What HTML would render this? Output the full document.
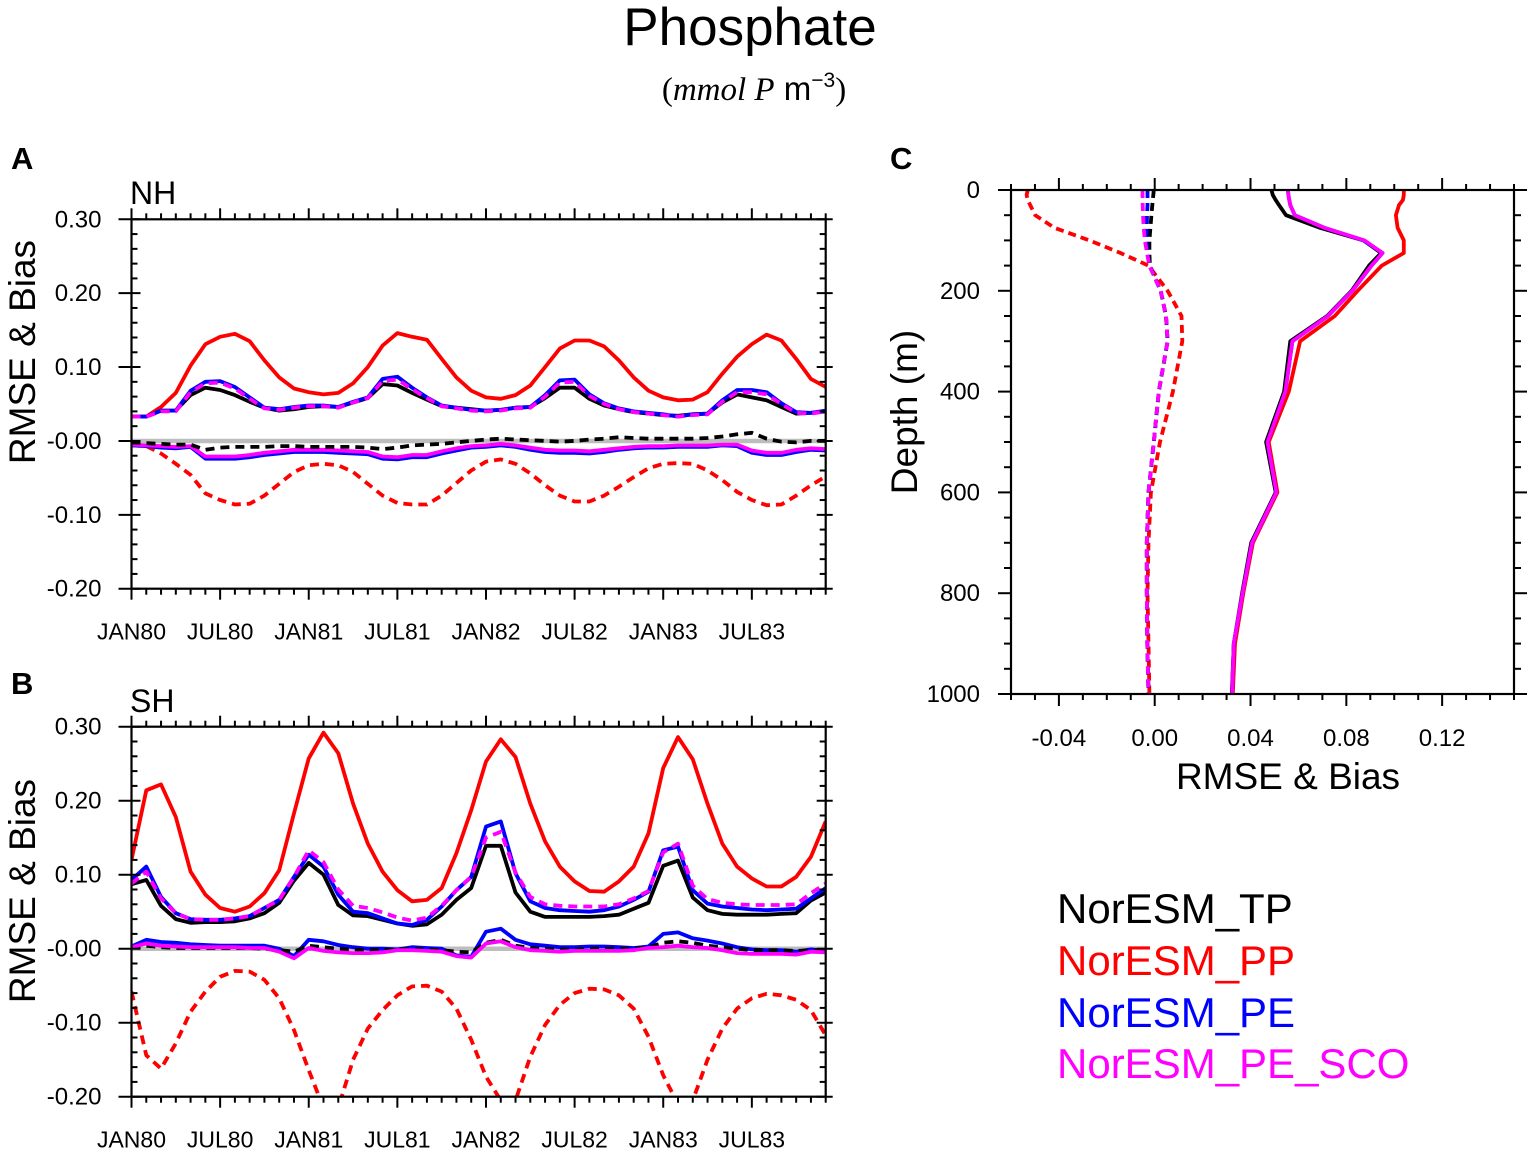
<!DOCTYPE html>
<html><head><meta charset="utf-8">
<style>
html,body{margin:0;padding:0;background:#fff;}
svg{display:block;font-family:"Liberation Sans",Arial,sans-serif;}
</style></head>
<body>
<svg id="fig" width="1535" height="1155" viewBox="0 0 1535 1155" xmlns="http://www.w3.org/2000/svg">
<text x="750" y="45" font-size="53" text-anchor="middle">Phosphate</text>
<text x="754" y="100" font-size="33" text-anchor="middle"><tspan font-family="Liberation Serif,serif">(</tspan><tspan font-family="Liberation Serif,serif" font-style="italic">mmol P</tspan> m<tspan font-size="21" dy="-13">−3</tspan><tspan font-family="Liberation Serif,serif" dy="13">)</tspan></text>
<text x="11" y="169" font-size="31" font-weight="bold">A</text>
<text x="11" y="694" font-size="31" font-weight="bold">B</text>
<text x="890" y="169" font-size="31" font-weight="bold">C</text>
<text x="130" y="204" font-size="32">NH</text>
<text x="130" y="712" font-size="32">SH</text>
<g font-size="42">
<text x="1057" y="923" fill="#000">NorESM_TP</text>
<text x="1057" y="975" fill="#ff0000">NorESM_PP</text>
<text x="1057" y="1027" fill="#0000ff">NorESM_PE</text>
<text x="1057" y="1078" fill="#ff00ff">NorESM_PE_SCO</text>
</g>
</svg>
<script>
const monthLabels = ["JAN80","JUL80","JAN81","JUL81","JAN82","JUL82","JAN83","JUL83"];
const yTicksAB = [0.30,0.20,0.10,0.00,-0.10,-0.20];
const yTickLabelsAB = ["0.30","0.20","0.10","-0.00","-0.10","-0.20"];
const nhRmsePP = [.033,.033,.046,.065,.102,.131,.141,.145,.135,.109,.086,.071,.066,.063,.065,.078,.100,.129,.146,.141,.137,.111,.086,.068,.059,.057,.062,.075,.100,.125,.136,.136,.128,.109,.086,.068,.059,.055,.056,.066,.091,.114,.131,.144,.136,.111,.084,.073];
const nhRmsePE = [.033,.033,.041,.041,.068,.080,.081,.073,.059,.045,.043,.046,.048,.048,.046,.053,.059,.084,.087,.072,.059,.048,.045,.042,.041,.042,.045,.046,.062,.082,.083,.063,.051,.044,.040,.038,.036,.033,.036,.037,.055,.069,.069,.066,.051,.039,.038,.041];
const nhRmseSCO = [.033,.033,.040,.040,.066,.078,.079,.071,.057,.044,.042,.045,.047,.047,.045,.052,.058,.081,.083,.070,.058,.047,.044,.041,.040,.041,.044,.045,.060,.079,.080,.061,.050,.043,.039,.037,.035,.033,.035,.036,.053,.066,.066,.063,.050,.038,.037,.040];
const nhRmseTP = [.033,.033,.041,.041,.062,.072,.069,.062,.053,.045,.041,.043,.046,.047,.046,.052,.058,.077,.075,.065,.056,.047,.045,.043,.041,.042,.045,.046,.058,.072,.072,.057,.048,.043,.039,.037,.035,.034,.036,.037,.052,.063,.059,.055,.046,.037,.038,.040];
const nhBiasTP = [-.002,-.003,-.004,-.005,-.005,-.012,-.009,-.008,-.008,-.008,-.007,-.007,-.008,-.008,-.008,-.008,-.009,-.011,-.009,-.006,-.005,-.004,-.002,0,.002,.003,.002,.001,0,-.001,0,.002,.003,.005,.004,.003,.003,.003,.003,.004,.006,.009,.011,.003,-.001,-.002,0,0];
const nhBiasPE = [-.006,-.007,-.009,-.010,-.008,-.024,-.024,-.024,-.022,-.019,-.017,-.015,-.015,-.015,-.016,-.017,-.018,-.024,-.025,-.022,-.022,-.017,-.013,-.009,-.008,-.006,-.008,-.012,-.015,-.016,-.016,-.017,-.015,-.012,-.010,-.009,-.009,-.008,-.008,-.008,-.006,-.007,-.016,-.019,-.019,-.015,-.012,-.013];
const nhBiasSCO = [-.005,-.006,-.007,-.008,-.007,-.021,-.021,-.021,-.019,-.016,-.014,-.012,-.012,-.012,-.013,-.014,-.015,-.021,-.022,-.019,-.019,-.014,-.010,-.007,-.006,-.004,-.006,-.009,-.012,-.013,-.013,-.014,-.012,-.010,-.008,-.007,-.007,-.006,-.006,-.006,-.005,-.005,-.013,-.016,-.016,-.012,-.010,-.011];
const nhBiasPP = [-.006,-.007,-.017,-.031,-.046,-.071,-.080,-.086,-.085,-.074,-.058,-.042,-.033,-.031,-.033,-.042,-.058,-.074,-.084,-.086,-.086,-.074,-.057,-.040,-.028,-.025,-.031,-.044,-.060,-.074,-.082,-.082,-.074,-.062,-.049,-.037,-.031,-.030,-.031,-.040,-.053,-.069,-.080,-.087,-.086,-.074,-.060,-.048];
const shRmsePP = [.120,.214,.222,.178,.104,.073,.055,.050,.057,.075,.106,.183,.257,.292,.264,.196,.142,.104,.079,.064,.066,.082,.129,.187,.253,.283,.259,.196,.145,.111,.091,.078,.077,.091,.111,.156,.244,.286,.256,.196,.142,.111,.095,.084,.084,.097,.124,.172];
const shRmsePE = [.093,.111,.070,.048,.040,.039,.039,.041,.044,.055,.066,.097,.127,.111,.073,.050,.048,.041,.034,.032,.039,.057,.079,.097,.165,.172,.102,.064,.055,.052,.051,.050,.052,.057,.066,.077,.133,.138,.079,.061,.057,.055,.053,.052,.053,.054,.068,.082];
const shRmseSCO = [.088,.104,.068,.048,.040,.039,.039,.041,.044,.055,.066,.097,.133,.117,.080,.058,.055,.049,.042,.038,.042,.058,.079,.097,.150,.158,.103,.070,.060,.058,.057,.057,.057,.060,.068,.078,.130,.142,.085,.067,.062,.060,.059,.059,.059,.060,.075,.088];
const shRmseTP = [.087,.093,.058,.040,.035,.036,.036,.037,.041,.048,.062,.092,.116,.100,.059,.045,.044,.039,.034,.031,.033,.046,.066,.082,.139,.139,.076,.050,.043,.043,.043,.043,.044,.046,.054,.062,.112,.119,.069,.052,.047,.046,.046,.046,.047,.048,.065,.076];
const shBiasPE = [.003,.012,.009,.008,.006,.005,.004,.004,.004,.004,0,-.010,.012,.010,.005,.002,0,0,-.001,.002,.001,0,-.009,-.011,.023,.027,.012,.006,.004,.002,.002,.003,.003,.002,.001,.003,.020,.022,.014,.011,.007,.002,-.001,-.002,-.002,-.004,-.001,-.003];
const shBiasSCO = [.002,.007,.004,.003,.002,.002,.002,.002,.001,.001,-.004,-.013,.001,-.003,-.005,-.006,-.006,-.005,-.002,-.002,-.003,-.004,-.010,-.012,.007,.010,.002,-.002,-.003,-.004,-.003,-.003,-.003,-.003,-.002,.001,.002,.004,.002,.001,-.002,-.006,-.007,-.007,-.007,-.008,-.004,-.005];
const shBiasTP = [.002,.004,.002,.001,.001,.001,.001,.001,.001,0,-.002,-.004,.004,.002,0,-.001,-.002,-.002,-.001,0,-.001,-.002,-.004,-.005,.008,.012,.004,.001,0,-.001,-.001,0,0,0,0,.002,.008,.010,.008,.004,.002,0,-.002,-.002,-.002,-.003,-.002,-.003];
const shBiasPP = [-.058,-.144,-.162,-.128,-.085,-.058,-.038,-.030,-.031,-.042,-.067,-.110,-.164,-.215,-.215,-.150,-.108,-.083,-.063,-.051,-.050,-.058,-.081,-.123,-.173,-.205,-.205,-.146,-.103,-.076,-.060,-.054,-.055,-.063,-.081,-.119,-.171,-.210,-.205,-.150,-.108,-.081,-.067,-.061,-.063,-.069,-.083,-.117];
const depths = [0,10,20,30,50,75,100,125,150,200,250,300,400,500,600,700,800,900,1000];
const depthTicks = [0,200,400,600,800,1000];
const cXTicks = [-0.04,0.00,0.04,0.08,0.12];
const cXTickLabels = ["-0.04","0.00","0.04","0.08","0.12"];
const profRmsePP = [.104,.104,.1036,.102,.1007,.1014,.104,.104,.0948,.0847,.0752,.0607,.056,.0476,.0512,.041,.037,.0335,.0326];
const profRmsePE = [.0556,.0558,.0562,.0566,.0585,.0708,.0872,.0951,.0905,.0825,.0723,.0575,.0545,.0471,.0508,.0406,.0367,.033,.0323];
const profRmseSCO = [.0556,.0558,.0562,.0566,.0585,.0708,.0876,.0951,.0905,.0825,.0723,.0575,.0545,.0471,.0508,.0406,.0367,.033,.0323];
const profRmseTP = [.0487,.0493,.0505,.0519,.0548,.069,.0872,.0945,.0895,.0822,.0720,.0566,.0540,.0465,.0505,.0403,.0365,.033,.0322];
const profBiasPP = [-.053,-.0535,-.053,-.052,-.0499,-.0419,-.0273,-.0143,-.0026,.0054,.0112,.0115,.0076,.0022,-.0016,-.0026,-.003,-.0026,-.0022];
const profBiasSCO = [-.0051,-.0051,-.005,-.005,-.0049,-.0046,-.0041,-.0032,-.0022,.0025,.0047,.0054,.0017,-.0004,-.0026,-.0033,-.0033,-.0031,-.0026];
const profBiasPE = [-.003,-.003,-.003,-.003,-.0032,-.0033,-.0035,-.003,-.0022,.0025,.0047,.0054,.0017,-.0004,-.0026,-.0033,-.0033,-.0031,-.0026];
const profBiasTP = [-.0004,-.0006,-.0008,-.001,-.0014,-.0018,-.0022,-.0022,-.002,.0025,.0047,.0054,.0017,-.0004,-.0026,-.0033,-.0033,-.0031,-.0026];

const NS = "http://www.w3.org/2000/svg";
const svg = document.getElementById("fig");
function mk(tag, parent, attrs){
  const e = document.createElementNS(NS, tag);
  for (const k in attrs) e.setAttribute(k, attrs[k]);
  parent.appendChild(e);
  return e;
}
const RED="#ff0000", BLUE="#0000ff", MAG="#ff00ff", BLK="#000000";

function timePanel(id, top, bottom, titleY, series, clipId){
  const L=131.5, R=825.7;
  const xS = i => L + i*(R-L)/47;
  const yS = v => top + (0.30 - v)*(bottom-top)/0.5;
  const g = mk("g", svg, {});
  
  
  const cp = mk("clipPath", g, {id:clipId});
  mk("rect", cp, {x:L, y:top, width:R-L, height:bottom-top});
  const zl = mk("line", g, {x1:L, x2:R, y1:yS(0), y2:yS(0), stroke:"#bdbdbd", "stroke-width":4.5});
  
  
  const lines = mk("g", g, {"clip-path":"url(#"+clipId+")"});
  series.forEach(s=>{
    const d = s.vals.map((v,i)=>(i?"L":"M")+xS(i).toFixed(1)+","+yS(v).toFixed(1)).join("");
    const p = mk("path", lines, {d:d, fill:"none", stroke:s.color, "stroke-width":3.8, "stroke-linejoin":"round"});
    if (s.dash) p.setAttribute("stroke-dasharray","9,6");
    
    
  });
  const fr = mk("rect", g, {x:L, y:top, width:R-L, height:bottom-top, fill:"none", stroke:"#000", "stroke-width":2.2});
  
  
  const ax = mk("g", g, {stroke:"#000", "stroke-width":2});
  
  
  for (let i=0;i<48;i++){
    const x=xS(i), maj = i%6===0, len = maj?11:6;
    mk("line", ax, {x1:x,x2:x,y1:bottom,y2:bottom+len});
    mk("line", ax, {x1:x,x2:x,y1:top,y2:top-len});
  }
  for (let k=0;k<=25;k++){
    const v = 0.30 - k*0.02, y=yS(v), maj = k%5===0;
    if (maj){
      mk("line", ax, {x1:L-13,x2:L+9,y1:y,y2:y});
      mk("line", ax, {x1:R-9,x2:R+7,y1:y,y2:y});
    } else {
      mk("line", ax, {x1:L,x2:L+6,y1:y,y2:y});
      mk("line", ax, {x1:R-6,x2:R,y1:y,y2:y});
    }
  }
  yTicksAB.forEach((v,k)=>{
    const t = mk("text", g, {x:L-30, y:yS(v)+8, "font-size":24, "text-anchor":"end"});
    t.textContent = yTickLabelsAB[k];
    
    
  });
  monthLabels.forEach((lab,k)=>{
    const t = mk("text", g, {x:xS(k*6), y:bottom+51, "font-size":23, "text-anchor":"middle"});
    t.textContent = lab;
    
    
  });
  const yt = mk("text", g, {x:0, y:0, "font-size":37, "text-anchor":"middle", transform:"translate(35,"+titleY+") rotate(-90)"});
  yt.textContent = "RMSE & Bias";
  
  
}

timePanel("panel-a", 219.3, 588.7, 352, [
  {name:"bias-pp", vals:nhBiasPP, color:RED, dash:true},
  {name:"bias-pe", vals:nhBiasPE, color:BLUE},
  {name:"bias-pe-sco", vals:nhBiasSCO, color:MAG},
  {name:"bias-tp", vals:nhBiasTP, color:BLK, dash:true},
  {name:"rmse-pp", vals:nhRmsePP, color:RED},
  {name:"rmse-tp", vals:nhRmseTP, color:BLK},
  {name:"rmse-pe", vals:nhRmsePE, color:BLUE},
  {name:"rmse-pe-sco", vals:nhRmseSCO, color:MAG, dash:true}
], "clipA");
timePanel("panel-b", 726.7, 1096.7, 891, [
  {name:"bias-pp", vals:shBiasPP, color:RED, dash:true},
  {name:"bias-pe", vals:shBiasPE, color:BLUE},
  {name:"bias-tp", vals:shBiasTP, color:BLK, dash:true},
  {name:"bias-pe-sco", vals:shBiasSCO, color:MAG},
  {name:"rmse-pp", vals:shRmsePP, color:RED},
  {name:"rmse-tp", vals:shRmseTP, color:BLK},
  {name:"rmse-pe", vals:shRmsePE, color:BLUE},
  {name:"rmse-pe-sco", vals:shRmseSCO, color:MAG, dash:true}
], "clipB");

(function(){
  const L=1011, R=1514, T=190, B=694, xmin=-0.06, xmax=0.15;
  const xS = v => L + (v-xmin)*(R-L)/(xmax-xmin);
  const yS = d => T + d*(B-T)/1000;
  const g = mk("g", svg, {});
  
  
  const series = [
    {name:"bias-pp", vals:profBiasPP, color:RED, dash:true},
    {name:"bias-tp", vals:profBiasTP, color:BLK, dash:true},
    {name:"bias-pe", vals:profBiasPE, color:BLUE, dash:true},
    {name:"bias-pe-sco", vals:profBiasSCO, color:MAG, dash:true},
    {name:"rmse-pp", vals:profRmsePP, color:RED},
    {name:"rmse-tp", vals:profRmseTP, color:BLK},
    {name:"rmse-pe", vals:profRmsePE, color:BLUE},
    {name:"rmse-pe-sco", vals:profRmseSCO, color:MAG}
  ];
  series.forEach(s=>{
    const d = s.vals.map((v,i)=>(i?"L":"M")+xS(v).toFixed(1)+","+yS(depths[i]).toFixed(1)).join("");
    const p = mk("path", g, {d:d, fill:"none", stroke:s.color, "stroke-width":3.8, "stroke-linejoin":"round"});
    if (s.dash) p.setAttribute("stroke-dasharray","8,5");
    
    
  });
  const fr = mk("rect", g, {x:L, y:T, width:R-L, height:B-T, fill:"none", stroke:"#000", "stroke-width":2.2});
  
  
  const ax = mk("g", g, {stroke:"#000", "stroke-width":2});
  
  
  for (let k=0;k<=21;k++){
    const v = -0.06 + k*0.01, x = xS(v), maj = (k-2)%4===0 && k>=2, len = maj?12:6;
    mk("line", ax, {x1:x,x2:x,y1:B,y2:B+len});
    mk("line", ax, {x1:x,x2:x,y1:T,y2:T-len});
  }
  for (let k=0;k<=20;k++){
    const d = k*50, y = yS(d), maj = k%4===0, len = maj?13:7;
    mk("line", ax, {x1:L-len,x2:L,y1:y,y2:y});
    mk("line", ax, {x1:R,x2:R+len,y1:y,y2:y});
  }
  cXTicks.forEach((v,k)=>{
    const t = mk("text", g, {x:xS(v), y:B+52, "font-size":24, "text-anchor":"middle"});
    t.textContent = cXTickLabels[k];
    
    
  });
  depthTicks.forEach(d=>{
    const t = mk("text", g, {x:L-31, y:yS(d)+8, "font-size":24, "text-anchor":"end"});
    t.textContent = String(d);
    
    
  });
  const xt = mk("text", g, {x:1288, y:789, "font-size":37, "text-anchor":"middle"});
  xt.textContent = "RMSE & Bias";
  
  
  const yt = mk("text", g, {x:0, y:0, "font-size":37, "text-anchor":"middle", transform:"translate(917,412) rotate(-90)"});
  yt.textContent = "Depth (m)";
  
  
})();
</script>
</body></html>
